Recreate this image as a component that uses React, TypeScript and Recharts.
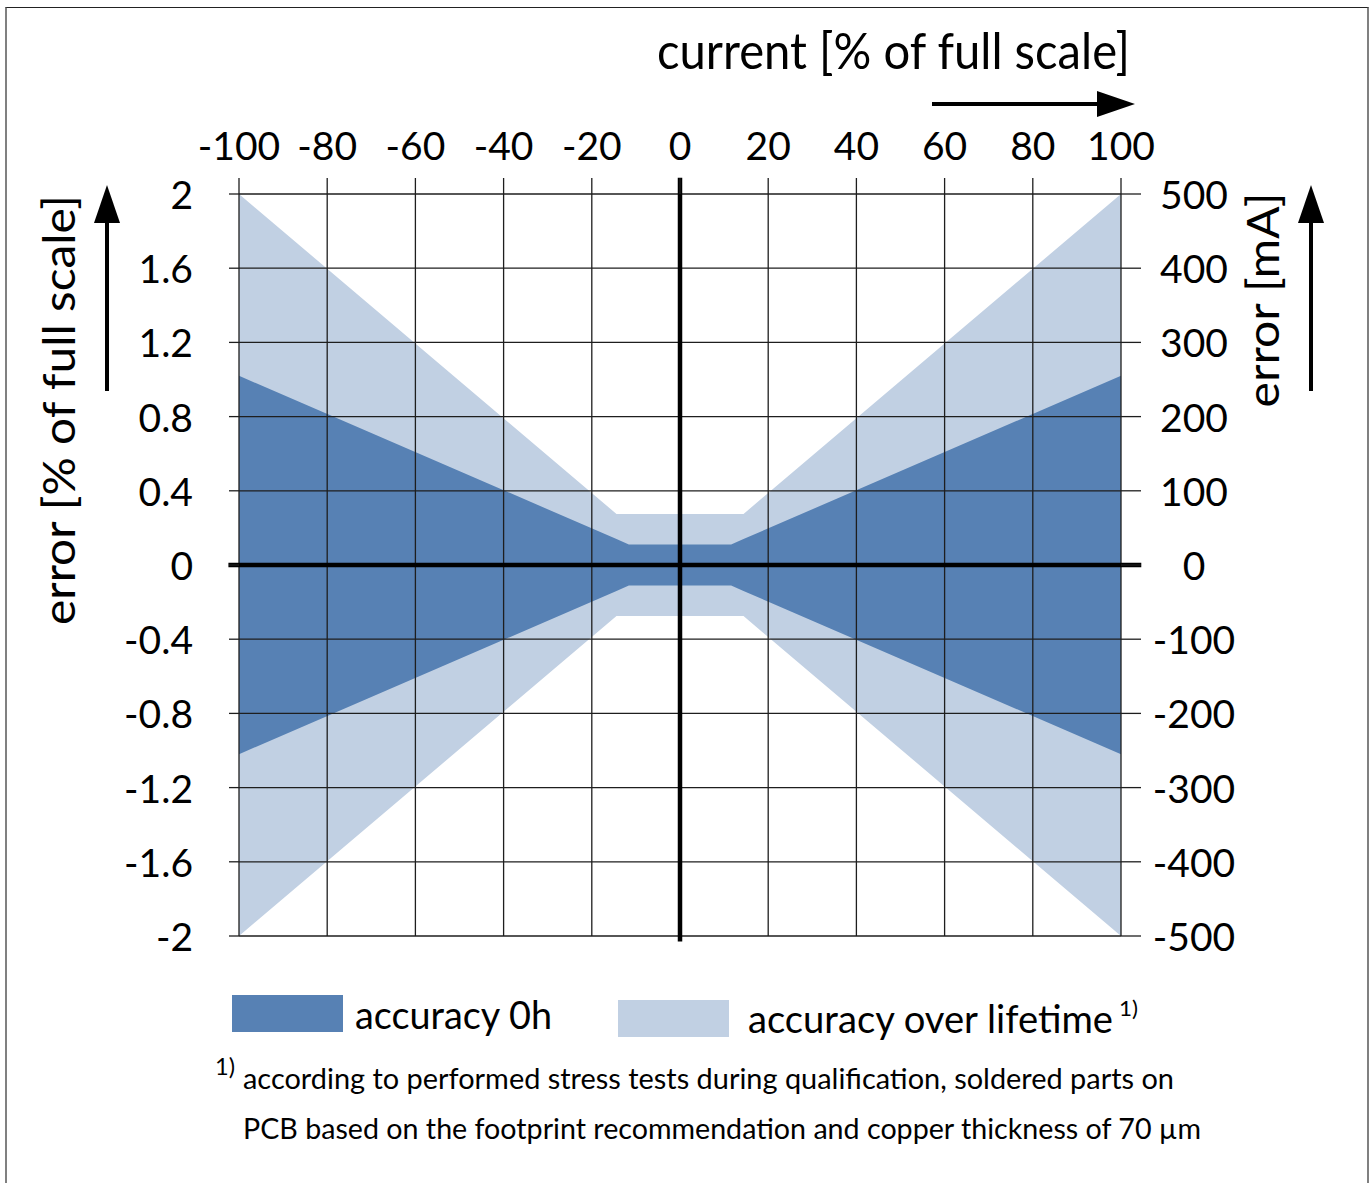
import React from 'react';
import { ComposedChart, Area, XAxis, YAxis, ReferenceLine } from 'recharts';

// current [% of full scale] at the band breakpoints
const currentPct = [-100, -14.4, -11.6, 11.6, 14.4, 100];
// half-width of the error bands [% of full scale]
const accuracy0h = [1.02, 0.14, 0.11, 0.11, 0.14, 1.02];
const accuracyLifetime = [2.0, 0.275, 0.275, 0.275, 0.275, 2.0];

const xTicks = [-100, -80, -60, -40, -20, 0, 20, 40, 60, 80, 100];
const pctTicks = [-2, -1.6, -1.2, -0.8, -0.4, 0, 0.4, 0.8, 1.2, 1.6, 2];
const mATicks = [-500, -400, -300, -200, -100, 0, 100, 200, 300, 400, 500];

const legendLabels = ['accuracy 0h', 'accuracy over lifetime'];
const footnoteLines = [
  'according to performed stress tests during qualification, soldered parts on',
  'PCB based on the footprint recommendation and copper thickness of 70 µm',
];

const DARK = '#5781b4';
const LIGHT = '#c1d0e3';
const GRID = '#1e1e1e';
const FONT = 'Lato, "Open Sans", sans-serif';

const data = currentPct.map((x, i) => ({
  x,
  initial: [-accuracy0h[i], accuracy0h[i]],
  lifetime: [-accuracyLifetime[i], accuracyLifetime[i]],
}));

const TopTick = ({ x, y, payload }: any) => (
  <text x={x} y={y - 18} textAnchor="middle" fontSize={39} fill="#000" fontFamily={FONT}>
    {payload.value}
  </text>
);

const LeftTick = ({ x, y, payload }: any) => (
  <text x={x - 36} y={y + 15} textAnchor="end" fontSize={39} fill="#000" fontFamily={FONT}>
    {payload.value}
  </text>
);

const RightTick = ({ x, y, payload }: any) => (
  <text x={x + 53} y={y + 15} textAnchor="middle" fontSize={39} fill="#000" fontFamily={FONT}>
    {payload.value}
  </text>
);

export default function App() {
  return (
    <div
      style={{
        position: 'absolute',
        left: 0,
        top: 0,
        width: 1370,
        height: 1183,
        overflow: 'hidden',
        background: '#fff',
        fontFamily: FONT,
      }}
    >
      {/* frame */}
      <div
        style={{
          position: 'absolute',
          left: 5,
          top: 7,
          width: 1364,
          height: 1176,
          boxSizing: 'border-box',
          borderLeft: '2px solid #808080',
          borderRight: '2px solid #808080',
          borderTop: '1.5px solid #222',
        }}
      />

      <div style={{ position: 'absolute', left: 0, top: 0 }}>
        <ComposedChart
          width={1370}
          height={1183}
          data={data}
          margin={{ top: 154, right: 149, bottom: 237, left: 159 }}
        >
          <XAxis
            xAxisId="top"
            dataKey="x"
            type="number"
            orientation="top"
            domain={[-100, 100]}
            allowDataOverflow
            ticks={xTicks}
            interval={0}
            height={40}
            tickSize={16}
            tickMargin={0}
            axisLine={false}
            tickLine={{ stroke: GRID, strokeWidth: 1.3 }}
            tick={TopTick}
          />
          <XAxis
            xAxisId="bottom"
            dataKey="x"
            type="number"
            orientation="bottom"
            domain={[-100, 100]}
            allowDataOverflow
            ticks={xTicks}
            interval={0}
            height={10}
            tickSize={8}
            axisLine={false}
            tickLine={{ stroke: GRID, strokeWidth: 1.3 }}
            tick={false}
          />
          <YAxis
            yAxisId="pct"
            type="number"
            domain={[-2, 2]}
            allowDataOverflow
            ticks={pctTicks}
            interval={0}
            width={80}
            tickSize={10}
            tickMargin={0}
            axisLine={false}
            tickLine={{ stroke: GRID, strokeWidth: 1.3 }}
            tick={LeftTick}
          />
          <YAxis
            yAxisId="mA"
            orientation="right"
            type="number"
            domain={[-500, 500]}
            allowDataOverflow
            ticks={mATicks}
            interval={0}
            width={100}
            tickSize={20}
            tickMargin={0}
            axisLine={false}
            tickLine={{ stroke: GRID, strokeWidth: 1.3 }}
            tick={RightTick}
          />

          <Area
            xAxisId="top"
            yAxisId="pct"
            dataKey="lifetime"
            type="linear"
            fill={LIGHT}
            fillOpacity={1}
            stroke="none"
            isAnimationActive={false}
          />
          <Area
            xAxisId="top"
            yAxisId="pct"
            dataKey="initial"
            type="linear"
            fill={DARK}
            fillOpacity={1}
            stroke="none"
            isAnimationActive={false}
          />

          {xTicks.map((v) => (
            <ReferenceLine key={`vx${v}`} xAxisId="top" yAxisId="pct" x={v} stroke={GRID} strokeWidth={1.3} />
          ))}
          {pctTicks.map((v) => (
            <ReferenceLine key={`hy${v}`} xAxisId="top" yAxisId="pct" y={v} stroke={GRID} strokeWidth={1.3} />
          ))}

          {/* thick zero axes */}
          <ReferenceLine
            xAxisId="top"
            yAxisId="pct"
            segment={[{ x: -102.4, y: 0 }, { x: 104.6, y: 0 }]}
            ifOverflow="visible"
            stroke="#000"
            strokeWidth={4.5}
          />
          <ReferenceLine
            xAxisId="top"
            yAxisId="pct"
            segment={[{ x: 0, y: -2.03 }, { x: 0, y: 2.087 }]}
            ifOverflow="visible"
            stroke="#000"
            strokeWidth={4.5}
          />
        </ComposedChart>
      </div>

      {/* titles, arrows, legend, footnote */}
      <svg
        width={1370}
        height={1183}
        style={{ position: 'absolute', left: 0, top: 0, pointerEvents: 'none' }}
        fontFamily={FONT}
        fill="#000"
      >
        <text x={657} y={69} fontSize={51} textLength={473} lengthAdjust="spacingAndGlyphs">
          current [% of full scale]
        </text>
        <line x1={932} y1={104} x2={1100} y2={104} stroke="#000" strokeWidth={4} />
        <polygon points="1097,91 1135,104 1097,117" fill="#000" />

        <text
          transform="translate(75,410) rotate(-90)"
          textAnchor="middle"
          fontSize={45}
          textLength={430}
          lengthAdjust="spacingAndGlyphs"
        >
          error [% of full scale]
        </text>
        <line x1={107} y1={391} x2={107} y2={218} stroke="#000" strokeWidth={4} />
        <polygon points="94,223 107,185 120,223" fill="#000" />

        <text
          transform="translate(1279,300) rotate(-90)"
          textAnchor="middle"
          fontSize={45}
          textLength={215}
          lengthAdjust="spacingAndGlyphs"
        >
          error [mA]
        </text>
        <line x1={1311} y1={391} x2={1311} y2={218} stroke="#000" strokeWidth={4} />
        <polygon points="1298,223 1311,185 1324,223" fill="#000" />

        {/* legend */}
        <rect x={232} y={995} width={111} height={37} fill={DARK} />
        <text x={355} y={1029} fontSize={38} textLength={197} lengthAdjust="spacingAndGlyphs">
          {legendLabels[0]}
        </text>
        <rect x={618} y={1000} width={111} height={37} fill={LIGHT} />
        <text x={748} y={1033} fontSize={38} textLength={365} lengthAdjust="spacingAndGlyphs">
          {legendLabels[1]}
        </text>
        <text x={1119} y={1016} fontSize={22} textLength={19} lengthAdjust="spacingAndGlyphs">
          1)
        </text>

        {/* footnote */}
        <text x={215} y={1075} fontSize={24} textLength={20} lengthAdjust="spacingAndGlyphs">
          1)
        </text>
        <text x={243} y={1089} fontSize={28} textLength={931} lengthAdjust="spacingAndGlyphs">
          {footnoteLines[0]}
        </text>
        <text x={243} y={1139} fontSize={28} textLength={958} lengthAdjust="spacingAndGlyphs">
          {footnoteLines[1]}
        </text>
      </svg>
    </div>
  );
}
